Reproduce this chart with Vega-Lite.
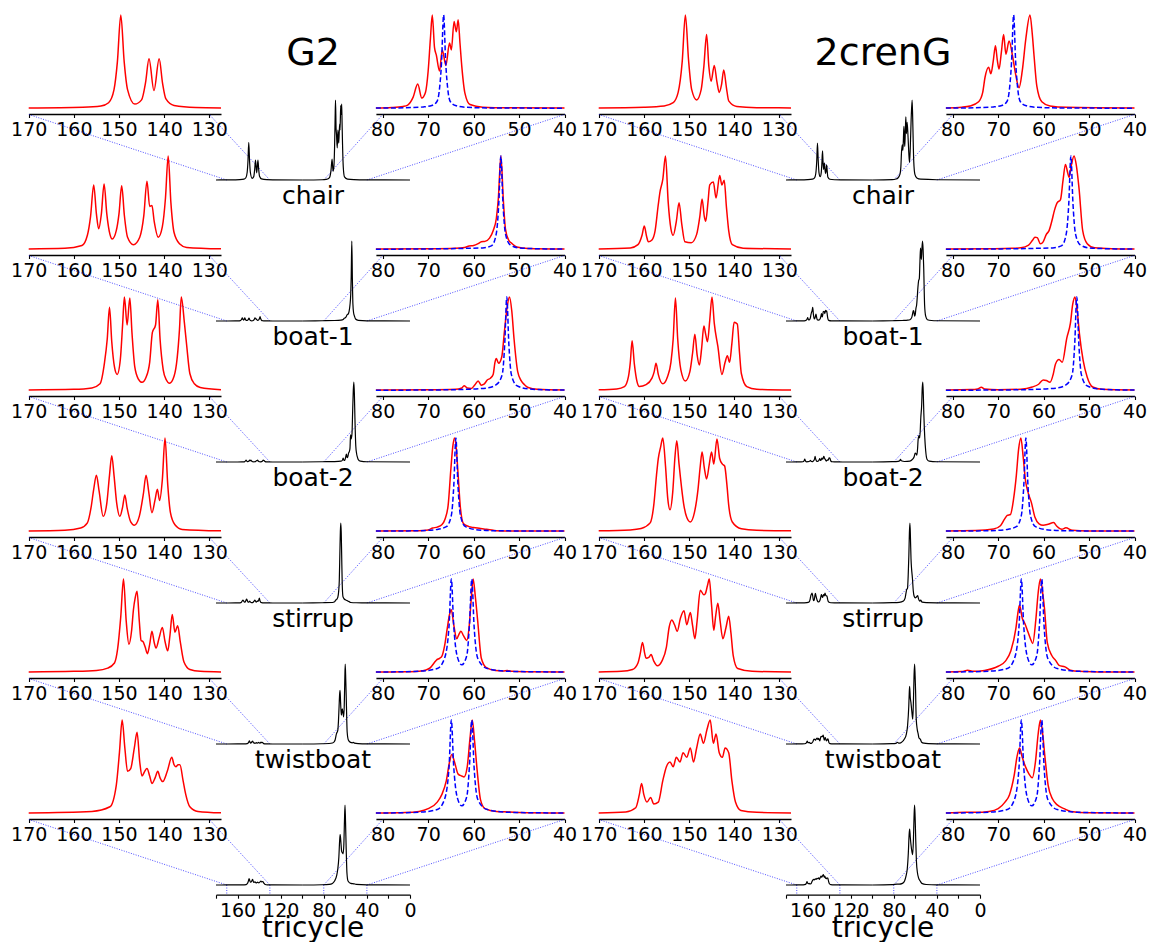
{"$schema":"https://vega.github.io/schema/vega-lite/v6.json","padding":0,"autosize":{"type":"pad"},"columns":2,"spacing":0,"bounds":"flush",
"config":{"view":{"stroke":null},"font":"DejaVu Sans","line":{"interpolate":"monotone","strokeWidth":1.5},"text":{"baseline":"alphabetic","color":"black","fontSize":25},"axis":{"labelFontSize":19,"labelColor":"black","domainColor":"black","tickColor":"black","labelFlush":false,"labelOverlap":false,"labelBound":false,"grid":false,"tickSize":3.5,"labelPadding":3,"domainWidth":1.3,"tickWidth":1.1}},
"datasets":{
"conn":[{"a":170,"b":353.8},{"a":130,"b":186.2},{"a":80,"b":25.3},{"a":40,"b":-143.35}],
"vt":[{"x":170},{"x":130},{"x":80},{"x":40}],
"b1":[{"x":81.5,"y":0.002},{"x":75,"y":0.006},{"x":71,"y":0.015},{"x":69.2,"y":0.03},{"x":68.1,"y":0.07},{"x":67.6,"y":0.17},{"x":67.05,"y":0.5},{"x":66.6,"y":1},{"x":66.15,"y":0.5},{"x":65.6,"y":0.17},{"x":65.1,"y":0.07},{"x":64,"y":0.03},{"x":62,"y":0.012},{"x":57,"y":0.004},{"x":40,"y":0.001}],
"b2":[{"x":81.5,"y":0.001},{"x":70,"y":0.004},{"x":62,"y":0.01},{"x":58,"y":0.015},{"x":56,"y":0.04},{"x":55,"y":0.17},{"x":54.45,"y":0.5},{"x":54,"y":1},{"x":53.55,"y":0.5},{"x":53,"y":0.17},{"x":52,"y":0.05},{"x":50,"y":0.015},{"x":45,"y":0.005},{"x":40,"y":0.003}],
"b3":[{"x":81.5,"y":0.001},{"x":70,"y":0.003},{"x":62,"y":0.01},{"x":57,"y":0.025},{"x":55,"y":0.06},{"x":53.7,"y":0.17},{"x":53.15,"y":0.5},{"x":52.7,"y":1},{"x":52.25,"y":0.5},{"x":51.7,"y":0.17},{"x":50.5,"y":0.05},{"x":48,"y":0.015},{"x":44,"y":0.005},{"x":40,"y":0.003}],
"b4":[{"x":81.5,"y":0.002},{"x":72,"y":0.006},{"x":68,"y":0.02},{"x":66,"y":0.05},{"x":64.9,"y":0.17},{"x":64.35,"y":0.5},{"x":63.9,"y":1},{"x":63.45,"y":0.5},{"x":62.9,"y":0.17},{"x":61.8,"y":0.05},{"x":59,"y":0.015},{"x":55,"y":0.006},{"x":40,"y":0.002}],
"b5":[{"x":81.5,"y":0.002},{"x":72,"y":0.012},{"x":68,"y":0.04},{"x":66.4,"y":0.15},{"x":65.4,"y":0.5},{"x":64.9,"y":1},{"x":64.4,"y":0.52},{"x":63.6,"y":0.17},{"x":62.6,"y":0.08},{"x":61.5,"y":0.18},{"x":60.9,"y":0.52},{"x":60.4,"y":1},{"x":59.9,"y":0.5},{"x":59.1,"y":0.15},{"x":57,"y":0.04},{"x":52,"y":0.01},{"x":40,"y":0.003}],
"a1":[{"x":180,"y":0},{"x":170,"y":0.004},{"x":158,"y":0.012},{"x":154,"y":0.025},{"x":152.3,"y":0.06},{"x":151.1,"y":0.2},{"x":150.35,"y":0.5},{"x":149.6,"y":1},{"x":148.85,"y":0.5},{"x":148.1,"y":0.2},{"x":146.5,"y":0.045},{"x":145,"y":0.09},{"x":144.1,"y":0.28},{"x":143.35,"y":0.53},{"x":142.25,"y":0.19},{"x":141.1,"y":0.53},{"x":140.35,"y":0.27},{"x":139.6,"y":0.1},{"x":137.8,"y":0.03},{"x":133,"y":0.008},{"x":127.4,"y":0.004},{"x":100,"y":0},{"x":81.5,"y":0.003},{"x":78,"y":0.008},{"x":75.5,"y":0.02},{"x":74.5,"y":0.035},{"x":73.3,"y":0.12},{"x":72.3,"y":0.26},{"x":71.4,"y":0.11},{"x":70.6,"y":0.17},{"x":70,"y":0.4},{"x":69.5,"y":0.75},{"x":69.1,"y":1},{"x":68.6,"y":0.65},{"x":68.2,"y":0.57},{"x":67.5,"y":0.4},{"x":66.9,"y":0.625},{"x":66.1,"y":0.46},{"x":65.3,"y":0.7},{"x":64.9,"y":0.625},{"x":64.3,"y":0.93},{"x":63.8,"y":0.82},{"x":63.4,"y":0.95},{"x":63,"y":0.7},{"x":62.6,"y":0.45},{"x":61.9,"y":0.16},{"x":60.8,"y":0.04},{"x":58,"y":0.012},{"x":52,"y":0.005},{"x":40,"y":0.002},{"x":0,"y":0}],
"a2":[{"x":180,"y":0},{"x":170,"y":0.004},{"x":162,"y":0.01},{"x":158.2,"y":0.04},{"x":157,"y":0.15},{"x":156.3,"y":0.35},{"x":155.6,"y":0.69},{"x":155,"y":0.38},{"x":154.5,"y":0.22},{"x":153.9,"y":0.38},{"x":153.3,"y":0.7},{"x":152.7,"y":0.38},{"x":152,"y":0.16},{"x":151.5,"y":0.11},{"x":150.6,"y":0.2},{"x":150,"y":0.38},{"x":149.4,"y":0.68},{"x":148.8,"y":0.36},{"x":148.1,"y":0.13},{"x":146.8,"y":0.05},{"x":145.4,"y":0.13},{"x":144.5,"y":0.36},{"x":143.8,"y":0.73},{"x":143.2,"y":0.46},{"x":142.7,"y":0.47},{"x":142.2,"y":0.3},{"x":141.3,"y":0.13},{"x":140.4,"y":0.24},{"x":139.7,"y":0.55},{"x":139.1,"y":1},{"x":138.5,"y":0.5},{"x":137.8,"y":0.18},{"x":136.6,"y":0.06},{"x":135,"y":0.02},{"x":127.4,"y":0.005},{"x":100,"y":0},{"x":81.5,"y":0.003},{"x":70,"y":0.006},{"x":64,"y":0.012},{"x":62,"y":0.02},{"x":61,"y":0.035},{"x":60,"y":0.04},{"x":59,"y":0.06},{"x":58.3,"y":0.08},{"x":57.5,"y":0.085},{"x":56.5,"y":0.12},{"x":55.7,"y":0.2},{"x":55,"y":0.33},{"x":54.55,"y":0.55},{"x":54,"y":1},{"x":53.45,"y":0.52},{"x":53,"y":0.22},{"x":52.3,"y":0.1},{"x":51.5,"y":0.06},{"x":50.5,"y":0.025},{"x":48,"y":0.008},{"x":40,"y":0.002},{"x":0,"y":0}],
"a3":[{"x":180,"y":0},{"x":170,"y":0.004},{"x":160,"y":0.01},{"x":156,"y":0.025},{"x":154.2,"y":0.07},{"x":153.2,"y":0.3},{"x":152.6,"y":0.55},{"x":152.1,"y":0.89},{"x":151.6,"y":0.52},{"x":151,"y":0.25},{"x":150.4,"y":0.17},{"x":149.7,"y":0.33},{"x":149.2,"y":0.7},{"x":148.8,"y":1},{"x":148.2,"y":0.7},{"x":147.6,"y":0.99},{"x":147.1,"y":0.6},{"x":146.5,"y":0.25},{"x":145.7,"y":0.12},{"x":144.9,"y":0.085},{"x":144,"y":0.14},{"x":143.2,"y":0.3},{"x":142.6,"y":0.62},{"x":141.9,"y":0.7},{"x":141.4,"y":0.97},{"x":140.9,"y":0.55},{"x":140.2,"y":0.22},{"x":139.5,"y":0.11},{"x":138.8,"y":0.075},{"x":137.8,"y":0.15},{"x":137.1,"y":0.35},{"x":136.6,"y":0.65},{"x":136.2,"y":1},{"x":135.5,"y":0.72},{"x":135,"y":0.48},{"x":134.3,"y":0.18},{"x":133.3,"y":0.07},{"x":132,"y":0.03},{"x":127.4,"y":0.006},{"x":100,"y":0},{"x":81.5,"y":0.003},{"x":70,"y":0.005},{"x":64,"y":0.01},{"x":62.6,"y":0.025},{"x":62.1,"y":0.05},{"x":61.4,"y":0.025},{"x":60.5,"y":0.02},{"x":59.7,"y":0.06},{"x":59,"y":0.1},{"x":58.3,"y":0.055},{"x":57.7,"y":0.065},{"x":57,"y":0.11},{"x":56.3,"y":0.13},{"x":55.7,"y":0.17},{"x":55.3,"y":0.3},{"x":55,"y":0.34},{"x":54.5,"y":0.29},{"x":53.8,"y":0.36},{"x":53.2,"y":0.64},{"x":52.6,"y":0.9},{"x":52.1,"y":1},{"x":51.6,"y":0.85},{"x":51.1,"y":0.55},{"x":50.3,"y":0.2},{"x":49.5,"y":0.1},{"x":48.8,"y":0.06},{"x":48,"y":0.03},{"x":46,"y":0.01},{"x":40,"y":0.003},{"x":0,"y":0}],
"a4":[{"x":180,"y":0},{"x":170,"y":0.004},{"x":162,"y":0.012},{"x":158.5,"y":0.035},{"x":157,"y":0.09},{"x":156.2,"y":0.25},{"x":155.6,"y":0.45},{"x":155,"y":0.6},{"x":154.4,"y":0.43},{"x":153.5,"y":0.16},{"x":152.7,"y":0.3},{"x":152.1,"y":0.6},{"x":151.6,"y":0.81},{"x":151.1,"y":0.6},{"x":150.5,"y":0.3},{"x":149.8,"y":0.16},{"x":149.2,"y":0.26},{"x":148.7,"y":0.39},{"x":148.2,"y":0.25},{"x":147.4,"y":0.1},{"x":146.6,"y":0.065},{"x":145.5,"y":0.16},{"x":144.6,"y":0.4},{"x":144,"y":0.6},{"x":143.4,"y":0.42},{"x":142.7,"y":0.2},{"x":142,"y":0.34},{"x":141.5,"y":0.45},{"x":141,"y":0.33},{"x":140.4,"y":0.55},{"x":139.8,"y":1},{"x":139.2,"y":0.5},{"x":138.6,"y":0.2},{"x":137.6,"y":0.07},{"x":136,"y":0.02},{"x":127.4,"y":0.005},{"x":100,"y":0},{"x":81.5,"y":0.003},{"x":72,"y":0.006},{"x":70,"y":0.015},{"x":69,"y":0.035},{"x":68,"y":0.045},{"x":67,"y":0.07},{"x":66.3,"y":0.13},{"x":65.6,"y":0.28},{"x":65,"y":0.67},{"x":64.6,"y":0.9},{"x":64.2,"y":1},{"x":63.8,"y":0.88},{"x":63.4,"y":0.6},{"x":62.9,"y":0.25},{"x":62.2,"y":0.08},{"x":61,"y":0.05},{"x":60,"y":0.04},{"x":58.5,"y":0.03},{"x":57.5,"y":0.022},{"x":56.8,"y":0.02},{"x":55,"y":0.006},{"x":50,"y":0.003},{"x":40,"y":0.002},{"x":0,"y":0}],
"a5":[{"x":180,"y":0},{"x":170,"y":0.004},{"x":160,"y":0.01},{"x":155,"y":0.02},{"x":152.5,"y":0.045},{"x":151,"y":0.1},{"x":150.3,"y":0.25},{"x":149.6,"y":0.6},{"x":149,"y":1},{"x":148.4,"y":0.55},{"x":147.8,"y":0.3},{"x":147.2,"y":0.45},{"x":146.8,"y":0.67},{"x":146.4,"y":0.8},{"x":146,"y":0.87},{"x":145.5,"y":0.55},{"x":145.1,"y":0.34},{"x":144.7,"y":0.33},{"x":144.2,"y":0.27},{"x":143.7,"y":0.2},{"x":143.2,"y":0.3},{"x":142.7,"y":0.44},{"x":142.2,"y":0.32},{"x":141.8,"y":0.26},{"x":141.1,"y":0.37},{"x":140.4,"y":0.48},{"x":139.8,"y":0.33},{"x":139.2,"y":0.23},{"x":138.7,"y":0.4},{"x":138.2,"y":0.62},{"x":137.6,"y":0.43},{"x":137,"y":0.5},{"x":136.4,"y":0.32},{"x":135.6,"y":0.11},{"x":134.3,"y":0.03},{"x":132,"y":0.01},{"x":127.4,"y":0.004},{"x":100,"y":0},{"x":81.5,"y":0.003},{"x":75,"y":0.006},{"x":72,"y":0.012},{"x":70.5,"y":0.025},{"x":69.5,"y":0.05},{"x":68.7,"y":0.1},{"x":68.2,"y":0.13},{"x":67.5,"y":0.15},{"x":67,"y":0.17},{"x":66.4,"y":0.28},{"x":65.8,"y":0.47},{"x":65.3,"y":0.62},{"x":64.9,"y":0.67},{"x":64.4,"y":0.52},{"x":63.7,"y":0.36},{"x":63.2,"y":0.41},{"x":62.8,"y":0.44},{"x":62.2,"y":0.39},{"x":61.5,"y":0.34},{"x":61,"y":0.48},{"x":60.5,"y":0.8},{"x":60.1,"y":1},{"x":59.6,"y":0.8},{"x":59.1,"y":0.55},{"x":58.3,"y":0.15},{"x":57.2,"y":0.05},{"x":55.2,"y":0.02},{"x":53.5,"y":0.015},{"x":52.6,"y":0.02},{"x":51.5,"y":0.01},{"x":48,"y":0.005},{"x":40,"y":0.002},{"x":0,"y":0}],
"a6":[{"x":180,"y":0},{"x":170,"y":0.004},{"x":156,"y":0.02},{"x":152,"y":0.07},{"x":150.6,"y":0.3},{"x":149.9,"y":0.65},{"x":149.3,"y":1},{"x":148.7,"y":0.7},{"x":148.1,"y":0.45},{"x":147.4,"y":0.48},{"x":146.6,"y":0.7},{"x":146,"y":0.87},{"x":145.4,"y":0.55},{"x":144.9,"y":0.4},{"x":144.3,"y":0.45},{"x":143.8,"y":0.48},{"x":143.2,"y":0.4},{"x":142.7,"y":0.32},{"x":142,"y":0.38},{"x":141.4,"y":0.45},{"x":140.9,"y":0.38},{"x":140.3,"y":0.34},{"x":139.3,"y":0.45},{"x":138.3,"y":0.6},{"x":137.8,"y":0.52},{"x":137.4,"y":0.5},{"x":136.9,"y":0.52},{"x":136.5,"y":0.52},{"x":135.8,"y":0.35},{"x":135.2,"y":0.2},{"x":134.3,"y":0.07},{"x":132.5,"y":0.02},{"x":127.4,"y":0.005},{"x":100,"y":0},{"x":81.5,"y":0.003},{"x":75,"y":0.008},{"x":72,"y":0.02},{"x":70,"y":0.05},{"x":68,"y":0.12},{"x":67,"y":0.2},{"x":66,"y":0.35},{"x":65.3,"y":0.55},{"x":64.8,"y":0.63},{"x":64.2,"y":0.55},{"x":63.4,"y":0.42},{"x":62.6,"y":0.4},{"x":62.1,"y":0.39},{"x":61.4,"y":0.5},{"x":60.8,"y":0.8},{"x":60.3,"y":1},{"x":59.8,"y":0.78},{"x":59.2,"y":0.45},{"x":58.5,"y":0.15},{"x":57.5,"y":0.05},{"x":55,"y":0.02},{"x":52,"y":0.015},{"x":50,"y":0.008},{"x":40,"y":0.002},{"x":0,"y":0}],
"c1":[{"x":180,"y":0},{"x":170,"y":0.004},{"x":160,"y":0.012},{"x":155.5,"y":0.025},{"x":153.5,"y":0.06},{"x":152.4,"y":0.17},{"x":151.5,"y":0.5},{"x":150.8,"y":1},{"x":150.1,"y":0.52},{"x":149.4,"y":0.2},{"x":148.3,"y":0.09},{"x":147.3,"y":0.2},{"x":146.7,"y":0.45},{"x":146.1,"y":0.79},{"x":145.6,"y":0.45},{"x":145.1,"y":0.29},{"x":144.4,"y":0.46},{"x":143.8,"y":0.28},{"x":143.3,"y":0.17},{"x":142.8,"y":0.25},{"x":142.3,"y":0.41},{"x":141.7,"y":0.22},{"x":141.2,"y":0.08},{"x":139.4,"y":0.02},{"x":135,"y":0.007},{"x":127.4,"y":0.004},{"x":100,"y":0},{"x":81.5,"y":0.004},{"x":78,"y":0.012},{"x":76.2,"y":0.025},{"x":74.3,"y":0.07},{"x":73.4,"y":0.17},{"x":72.9,"y":0.33},{"x":72.1,"y":0.44},{"x":71.6,"y":0.37},{"x":71.1,"y":0.5},{"x":70.6,"y":0.67},{"x":70.2,"y":0.52},{"x":69.8,"y":0.42},{"x":69.3,"y":0.6},{"x":68.8,"y":0.79},{"x":68.3,"y":0.58},{"x":67.6,"y":0.72},{"x":66.8,"y":0.55},{"x":66.1,"y":0.35},{"x":65.4,"y":0.22},{"x":64.7,"y":0.4},{"x":63.9,"y":0.75},{"x":63,"y":1},{"x":62.5,"y":0.8},{"x":62.1,"y":0.56},{"x":61.5,"y":0.24},{"x":60.4,"y":0.07},{"x":58.6,"y":0.025},{"x":55,"y":0.01},{"x":40,"y":0.003},{"x":0,"y":0}],
"c2":[{"x":180,"y":0},{"x":170,"y":0.004},{"x":163,"y":0.015},{"x":161.3,"y":0.05},{"x":160.4,"y":0.15},{"x":159.9,"y":0.25},{"x":159.4,"y":0.14},{"x":159,"y":0.08},{"x":158.2,"y":0.1},{"x":157.5,"y":0.2},{"x":156.8,"y":0.48},{"x":156.4,"y":0.62},{"x":155.8,"y":0.75},{"x":155.2,"y":1},{"x":154.6,"y":0.5},{"x":154,"y":0.22},{"x":153.5,"y":0.15},{"x":152.8,"y":0.3},{"x":152.2,"y":0.5},{"x":151.6,"y":0.27},{"x":150.9,"y":0.08},{"x":149.5,"y":0.07},{"x":148.3,"y":0.16},{"x":147.6,"y":0.35},{"x":147.1,"y":0.54},{"x":146.6,"y":0.35},{"x":146.3,"y":0.3},{"x":145.8,"y":0.5},{"x":145.4,"y":0.69},{"x":144.6,"y":0.72},{"x":144,"y":0.55},{"x":143.2,"y":0.79},{"x":142.7,"y":0.69},{"x":142.2,"y":0.74},{"x":141.7,"y":0.45},{"x":141.2,"y":0.2},{"x":140.4,"y":0.05},{"x":138,"y":0.012},{"x":127.4,"y":0.004},{"x":100,"y":0},{"x":81.5,"y":0.003},{"x":72,"y":0.006},{"x":67,"y":0.01},{"x":65,"y":0.016},{"x":63.3,"y":0.045},{"x":62.4,"y":0.1},{"x":61.9,"y":0.13},{"x":61.4,"y":0.125},{"x":60.7,"y":0.06},{"x":60.1,"y":0.08},{"x":59.4,"y":0.16},{"x":58.8,"y":0.2},{"x":58.2,"y":0.3},{"x":57.6,"y":0.42},{"x":57,"y":0.5},{"x":56.3,"y":0.53},{"x":55.7,"y":0.75},{"x":55.2,"y":0.91},{"x":54.7,"y":0.82},{"x":54.4,"y":0.77},{"x":53.9,"y":0.9},{"x":53.3,"y":1},{"x":52.8,"y":0.9},{"x":52.2,"y":0.65},{"x":51.4,"y":0.2},{"x":50.4,"y":0.06},{"x":48.8,"y":0.016},{"x":45,"y":0.006},{"x":40,"y":0.003},{"x":0,"y":0}],
"c3":[{"x":180,"y":0},{"x":170,"y":0.005},{"x":166,"y":0.015},{"x":164.3,"y":0.04},{"x":163.4,"y":0.15},{"x":163,"y":0.3},{"x":162.6,"y":0.53},{"x":162.1,"y":0.28},{"x":161.5,"y":0.09},{"x":161,"y":0.04},{"x":159.5,"y":0.06},{"x":158.2,"y":0.13},{"x":157.7,"y":0.2},{"x":157.3,"y":0.29},{"x":156.8,"y":0.17},{"x":155.8,"y":0.07},{"x":154.8,"y":0.14},{"x":154,"y":0.3},{"x":153.5,"y":0.55},{"x":153,"y":0.99},{"x":152.5,"y":0.55},{"x":151.8,"y":0.22},{"x":150.8,"y":0.1},{"x":149.8,"y":0.2},{"x":149.2,"y":0.4},{"x":148.7,"y":0.6},{"x":148.2,"y":0.38},{"x":147.7,"y":0.27},{"x":147.2,"y":0.45},{"x":146.7,"y":0.69},{"x":146.3,"y":0.6},{"x":145.9,"y":0.52},{"x":145.4,"y":0.75},{"x":144.9,"y":1},{"x":144.4,"y":0.72},{"x":143.6,"y":0.47},{"x":142.7,"y":0.17},{"x":142,"y":0.3},{"x":141.5,"y":0.37},{"x":141,"y":0.3},{"x":140.5,"y":0.5},{"x":140,"y":0.73},{"x":139.3,"y":0.71},{"x":138.8,"y":0.4},{"x":138.4,"y":0.18},{"x":137.2,"y":0.04},{"x":135,"y":0.012},{"x":127.4,"y":0.004},{"x":100,"y":0},{"x":81.5,"y":0.004},{"x":76,"y":0.008},{"x":74.5,"y":0.015},{"x":73.7,"y":0.033},{"x":73,"y":0.015},{"x":70,"y":0.006},{"x":65,"y":0.012},{"x":62.5,"y":0.035},{"x":61.1,"y":0.065},{"x":60.1,"y":0.11},{"x":59.4,"y":0.105},{"x":58.6,"y":0.085},{"x":57.9,"y":0.17},{"x":57.4,"y":0.28},{"x":56.6,"y":0.33},{"x":55.9,"y":0.3},{"x":54.9,"y":0.56},{"x":54.1,"y":0.72},{"x":53.6,"y":0.92},{"x":53.1,"y":1},{"x":52.6,"y":0.85},{"x":52.1,"y":0.6},{"x":51.3,"y":0.32},{"x":50.4,"y":0.14},{"x":49.2,"y":0.035},{"x":47.2,"y":0.01},{"x":40,"y":0.003},{"x":0,"y":0}],
"c4":[{"x":180,"y":0},{"x":170,"y":0.005},{"x":163,"y":0.015},{"x":160.6,"y":0.03},{"x":158.6,"y":0.09},{"x":157.8,"y":0.28},{"x":157.2,"y":0.6},{"x":156.8,"y":0.78},{"x":156.3,"y":0.9},{"x":155.8,"y":1},{"x":155.2,"y":0.7},{"x":154.7,"y":0.35},{"x":154.2,"y":0.23},{"x":153.6,"y":0.42},{"x":153.1,"y":0.8},{"x":152.7,"y":0.97},{"x":152.2,"y":0.72},{"x":151.9,"y":0.58},{"x":151.2,"y":0.3},{"x":150.5,"y":0.15},{"x":149.7,"y":0.1},{"x":148.8,"y":0.2},{"x":148,"y":0.45},{"x":147.5,"y":0.7},{"x":147.1,"y":0.85},{"x":146.6,"y":0.68},{"x":146.1,"y":0.56},{"x":145.5,"y":0.72},{"x":145,"y":0.85},{"x":144.5,"y":0.72},{"x":143.8,"y":0.99},{"x":143.2,"y":0.78},{"x":142.6,"y":0.72},{"x":142.1,"y":0.7},{"x":141.6,"y":0.5},{"x":141.2,"y":0.28},{"x":140.4,"y":0.1},{"x":138.4,"y":0.027},{"x":135,"y":0.01},{"x":127.4,"y":0.005},{"x":100,"y":0},{"x":81.5,"y":0.004},{"x":75,"y":0.008},{"x":71,"y":0.025},{"x":69.5,"y":0.06},{"x":68.6,"y":0.13},{"x":68,"y":0.17},{"x":67.3,"y":0.18},{"x":66.6,"y":0.35},{"x":66,"y":0.6},{"x":65.5,"y":0.88},{"x":65,"y":1},{"x":64.5,"y":0.8},{"x":64,"y":0.55},{"x":63.5,"y":0.43},{"x":62.7,"y":0.31},{"x":61.9,"y":0.15},{"x":61,"y":0.08},{"x":60.1,"y":0.065},{"x":59,"y":0.075},{"x":57.8,"y":0.093},{"x":57.1,"y":0.055},{"x":56,"y":0.022},{"x":55.1,"y":0.037},{"x":53.7,"y":0.01},{"x":50,"y":0.004},{"x":40,"y":0.002},{"x":0,"y":0}],
"c5":[{"x":180,"y":0},{"x":170,"y":0.004},{"x":165,"y":0.01},{"x":162.5,"y":0.03},{"x":161.3,"y":0.1},{"x":160.8,"y":0.2},{"x":160.3,"y":0.32},{"x":159.8,"y":0.2},{"x":159.5,"y":0.15},{"x":158.9,"y":0.16},{"x":158.4,"y":0.19},{"x":157.8,"y":0.12},{"x":157,"y":0.07},{"x":156,"y":0.12},{"x":155,"y":0.27},{"x":154.4,"y":0.48},{"x":153.8,"y":0.56},{"x":153.2,"y":0.51},{"x":152.6,"y":0.44},{"x":151.9,"y":0.58},{"x":151.1,"y":0.66},{"x":150.5,"y":0.51},{"x":149.7,"y":0.64},{"x":149.2,"y":0.5},{"x":148.7,"y":0.36},{"x":148.2,"y":0.55},{"x":147.5,"y":0.88},{"x":146.7,"y":0.83},{"x":146.4,"y":0.84},{"x":145.9,"y":0.93},{"x":145.5,"y":1},{"x":145,"y":0.72},{"x":144.5,"y":0.45},{"x":144.1,"y":0.6},{"x":143.6,"y":0.74},{"x":143.1,"y":0.55},{"x":142.5,"y":0.36},{"x":141.8,"y":0.48},{"x":141.2,"y":0.6},{"x":140.7,"y":0.42},{"x":140.2,"y":0.18},{"x":139.2,"y":0.04},{"x":136,"y":0.01},{"x":127.4,"y":0.004},{"x":100,"y":0},{"x":81.5,"y":0.004},{"x":78,"y":0.008},{"x":76.7,"y":0.022},{"x":75.5,"y":0.01},{"x":73,"y":0.02},{"x":70,"y":0.065},{"x":68.4,"y":0.12},{"x":67.2,"y":0.23},{"x":66.1,"y":0.47},{"x":65.7,"y":0.62},{"x":65.3,"y":0.72},{"x":64.7,"y":0.58},{"x":64.1,"y":0.52},{"x":63.5,"y":0.44},{"x":62.9,"y":0.36},{"x":62.4,"y":0.31},{"x":61.7,"y":0.57},{"x":61.2,"y":0.85},{"x":60.7,"y":1},{"x":60.2,"y":0.85},{"x":59.8,"y":0.68},{"x":59.2,"y":0.32},{"x":58.2,"y":0.18},{"x":57.4,"y":0.13},{"x":56.6,"y":0.075},{"x":55.3,"y":0.058},{"x":54.1,"y":0.022},{"x":52.1,"y":0.01},{"x":48,"y":0.004},{"x":40,"y":0.002},{"x":0,"y":0}],
"c6":[{"x":180,"y":0},{"x":170,"y":0.004},{"x":164,"y":0.015},{"x":161.8,"y":0.06},{"x":161,"y":0.2},{"x":160.5,"y":0.32},{"x":160,"y":0.2},{"x":159.3,"y":0.12},{"x":158.5,"y":0.17},{"x":157.8,"y":0.1},{"x":156.8,"y":0.12},{"x":155.8,"y":0.35},{"x":155,"y":0.5},{"x":154.2,"y":0.55},{"x":153.5,"y":0.5},{"x":152.8,"y":0.6},{"x":152,"y":0.55},{"x":151.3,"y":0.65},{"x":150.5,"y":0.6},{"x":149.7,"y":0.7},{"x":149,"y":0.55},{"x":148.3,"y":0.7},{"x":147.5,"y":0.85},{"x":146.8,"y":0.75},{"x":146,"y":0.9},{"x":145.3,"y":1},{"x":144.6,"y":0.75},{"x":144,"y":0.85},{"x":143.3,"y":0.65},{"x":142.6,"y":0.6},{"x":142,"y":0.7},{"x":141.2,"y":0.65},{"x":140.5,"y":0.35},{"x":139.7,"y":0.12},{"x":138.5,"y":0.03},{"x":135,"y":0.01},{"x":127.4,"y":0.004},{"x":100,"y":0},{"x":81.5,"y":0.004},{"x":77,"y":0.012},{"x":75,"y":0.01},{"x":72,"y":0.02},{"x":70,"y":0.05},{"x":68.5,"y":0.12},{"x":67.5,"y":0.2},{"x":66.5,"y":0.4},{"x":65.8,"y":0.62},{"x":65.3,"y":0.7},{"x":64.7,"y":0.6},{"x":64,"y":0.5},{"x":63.2,"y":0.42},{"x":62.5,"y":0.38},{"x":61.8,"y":0.55},{"x":61.2,"y":0.85},{"x":60.7,"y":1},{"x":60.2,"y":0.85},{"x":59.7,"y":0.6},{"x":59,"y":0.3},{"x":58,"y":0.15},{"x":57,"y":0.09},{"x":55.5,"y":0.05},{"x":54,"y":0.02},{"x":50,"y":0.006},{"x":40,"y":0.002},{"x":0,"y":0}]
},
"concat":[
{"width":570,"height":140.2,"data":{"name":"a1"},"resolve":{"scale":{"x":"independent","y":"independent"}},"layer":[
{"data":{"name":"conn"},"mark":{"type":"rule","color":"#0000ff","strokeWidth":0.7,"strokeDash":[1,1.5]},"encoding":{"x":{"field":"a","type":"quantitative","scale":{"domain":[180,0],"range":[216,410]},"axis":null},"x2":{"field":"b"},"y":{"datum":0,"scale":{"domain":[0,100],"range":[180,100]},"axis":null},"y2":{"datum":81.9}}},
{"transform":[{"filter":"datum.x>127&&datum.x<171"}],"mark":{"type":"line","color":"#ff0000"},"encoding":{"x":{"field":"x","type":"quantitative","scale":{"domain":[170,127.4],"range":[28.7,221]},"axis":{"values":[170,160,150,140,130],"offset":-26.2,"orient":"bottom","title":null}},"y":{"field":"y","type":"quantitative","scale":{"domain":[0,1],"range":[108.3,15]},"axis":null}}},
{"encoding":{"x":{"field":"x","type":"quantitative","scale":{"domain":[81.5,40],"range":[375.9,564.5]},"axis":{"values":[80,70,60,50,40],"offset":-26.2,"orient":"bottom","title":null}},"y":{"field":"y","type":"quantitative","scale":{"domain":[0,1],"range":[108.3,15]},"axis":null}},"layer":[{"transform":[{"filter":"datum.x<82&&datum.x>39"}],"mark":{"type":"line","color":"#ff0000"}},{"data":{"name":"b1"},"mark":{"type":"line","color":"#0000ff","strokeDash":[5,2.5]}}]},
{"transform":[{"filter":"datum.x>99"}],"mark":{"type":"line","color":"black","strokeWidth":1.2},"encoding":{"x":{"field":"x","type":"quantitative","scale":{"domain":[180,0],"range":[216,410]},"axis":null},"y":{"field":"y","type":"quantitative","scale":{"domain":[0,2.13],"range":[180,100]},"axis":null}}},
{"transform":[{"filter":"datum.x<=100"}],"mark":{"type":"line","color":"black","strokeWidth":1.2},"encoding":{"x":{"field":"x","type":"quantitative","scale":{"domain":[180,0],"range":[216,410]},"axis":null},"y":{"field":"y","type":"quantitative","scale":{"domain":[0,1],"range":[180,100]},"axis":null}}},
{"data":{"values":[{}]},"mark":{"type":"text"},"encoding":{"text":{"value":"chair"},"x":{"datum":90,"scale":{"domain":[180,0],"range":[216,410]},"axis":null},"y":{"datum":-29.4,"scale":{"domain":[0,100],"range":[180,100]},"axis":null}}},
{"data":{"values":[{}]},"mark":{"type":"text","fontSize":38},"encoding":{"text":{"value":"G2"},"x":{"datum":90,"scale":{"domain":[180,0],"range":[216,410]},"axis":null},"y":{"datum":143.75,"scale":{"domain":[0,100],"range":[180,100]},"axis":null}}}
]},
{"width":570,"height":140.2,"data":{"name":"c1"},"resolve":{"scale":{"x":"independent","y":"independent"}},"layer":[
{"data":{"name":"conn"},"mark":{"type":"rule","color":"#0000ff","strokeWidth":0.7,"strokeDash":[1,1.5]},"encoding":{"x":{"field":"a","type":"quantitative","scale":{"domain":[180,0],"range":[216,410]},"axis":null},"x2":{"field":"b"},"y":{"datum":0,"scale":{"domain":[0,100],"range":[180,100]},"axis":null},"y2":{"datum":81.9}}},
{"transform":[{"filter":"datum.x>127&&datum.x<171"}],"mark":{"type":"line","color":"#ff0000"},"encoding":{"x":{"field":"x","type":"quantitative","scale":{"domain":[170,127.4],"range":[28.7,221]},"axis":{"values":[170,160,150,140,130],"offset":-26.2,"orient":"bottom","title":null}},"y":{"field":"y","type":"quantitative","scale":{"domain":[0,1],"range":[108.3,15]},"axis":null}}},
{"encoding":{"x":{"field":"x","type":"quantitative","scale":{"domain":[81.5,40],"range":[375.9,564.5]},"axis":{"values":[80,70,60,50,40],"offset":-26.2,"orient":"bottom","title":null}},"y":{"field":"y","type":"quantitative","scale":{"domain":[0,1],"range":[108.3,15]},"axis":null}},"layer":[{"transform":[{"filter":"datum.x<82&&datum.x>39"}],"mark":{"type":"line","color":"#ff0000"}},{"data":{"name":"b1"},"mark":{"type":"line","color":"#0000ff","strokeDash":[5,2.5]}}]},
{"transform":[{"filter":"datum.x>99"}],"mark":{"type":"line","color":"black","strokeWidth":1.2},"encoding":{"x":{"field":"x","type":"quantitative","scale":{"domain":[180,0],"range":[216,410]},"axis":null},"y":{"field":"y","type":"quantitative","scale":{"domain":[0,2.17],"range":[180,100]},"axis":null}}},
{"transform":[{"filter":"datum.x<=100"}],"mark":{"type":"line","color":"black","strokeWidth":1.2},"encoding":{"x":{"field":"x","type":"quantitative","scale":{"domain":[180,0],"range":[216,410]},"axis":null},"y":{"field":"y","type":"quantitative","scale":{"domain":[0,1],"range":[180,100]},"axis":null}}},
{"data":{"values":[{}]},"mark":{"type":"text"},"encoding":{"text":{"value":"chair"},"x":{"datum":90,"scale":{"domain":[180,0],"range":[216,410]},"axis":null},"y":{"datum":-29.4,"scale":{"domain":[0,100],"range":[180,100]},"axis":null}}},
{"data":{"values":[{}]},"mark":{"type":"text","fontSize":38},"encoding":{"text":{"value":"2crenG"},"x":{"datum":90,"scale":{"domain":[180,0],"range":[216,410]},"axis":null},"y":{"datum":143.75,"scale":{"domain":[0,100],"range":[180,100]},"axis":null}}}
]},
{"width":570,"height":140.2,"data":{"name":"a2"},"resolve":{"scale":{"x":"independent","y":"independent"}},"layer":[
{"data":{"name":"conn"},"mark":{"type":"rule","color":"#0000ff","strokeWidth":0.7,"strokeDash":[1,1.5]},"encoding":{"x":{"field":"a","type":"quantitative","scale":{"domain":[180,0],"range":[216,410]},"axis":null},"x2":{"field":"b"},"y":{"datum":0,"scale":{"domain":[0,100],"range":[180,100]},"axis":null},"y2":{"datum":81.9}}},
{"transform":[{"filter":"datum.x>127&&datum.x<171"}],"mark":{"type":"line","color":"#ff0000"},"encoding":{"x":{"field":"x","type":"quantitative","scale":{"domain":[170,127.4],"range":[28.7,221]},"axis":{"values":[170,160,150,140,130],"offset":-26.2,"orient":"bottom","title":null}},"y":{"field":"y","type":"quantitative","scale":{"domain":[0,1],"range":[108.3,15]},"axis":null}}},
{"encoding":{"x":{"field":"x","type":"quantitative","scale":{"domain":[81.5,40],"range":[375.9,564.5]},"axis":{"values":[80,70,60,50,40],"offset":-26.2,"orient":"bottom","title":null}},"y":{"field":"y","type":"quantitative","scale":{"domain":[0,1],"range":[108.3,15]},"axis":null}},"layer":[{"transform":[{"filter":"datum.x<82&&datum.x>39"}],"mark":{"type":"line","color":"#ff0000"}},{"data":{"name":"b2"},"mark":{"type":"line","color":"#0000ff","strokeDash":[5,2.5]}}]},
{"transform":[{"filter":"datum.x>99"}],"mark":{"type":"line","color":"black","strokeWidth":1.2},"encoding":{"x":{"field":"x","type":"quantitative","scale":{"domain":[180,0],"range":[216,410]},"axis":null},"y":{"field":"y","type":"quantitative","scale":{"domain":[0,18.2],"range":[180,100]},"axis":null}}},
{"transform":[{"filter":"datum.x<=100"}],"mark":{"type":"line","color":"black","strokeWidth":1.2},"encoding":{"x":{"field":"x","type":"quantitative","scale":{"domain":[180,0],"range":[216,410]},"axis":null},"y":{"field":"y","type":"quantitative","scale":{"domain":[0,1],"range":[180,100]},"axis":null}}},
{"data":{"values":[{}]},"mark":{"type":"text"},"encoding":{"text":{"value":"boat-1"},"x":{"datum":90,"scale":{"domain":[180,0],"range":[216,410]},"axis":null},"y":{"datum":-29.4,"scale":{"domain":[0,100],"range":[180,100]},"axis":null}}}
]},
{"width":570,"height":140.2,"data":{"name":"c2"},"resolve":{"scale":{"x":"independent","y":"independent"}},"layer":[
{"data":{"name":"conn"},"mark":{"type":"rule","color":"#0000ff","strokeWidth":0.7,"strokeDash":[1,1.5]},"encoding":{"x":{"field":"a","type":"quantitative","scale":{"domain":[180,0],"range":[216,410]},"axis":null},"x2":{"field":"b"},"y":{"datum":0,"scale":{"domain":[0,100],"range":[180,100]},"axis":null},"y2":{"datum":81.9}}},
{"transform":[{"filter":"datum.x>127&&datum.x<171"}],"mark":{"type":"line","color":"#ff0000"},"encoding":{"x":{"field":"x","type":"quantitative","scale":{"domain":[170,127.4],"range":[28.7,221]},"axis":{"values":[170,160,150,140,130],"offset":-26.2,"orient":"bottom","title":null}},"y":{"field":"y","type":"quantitative","scale":{"domain":[0,1],"range":[108.3,15]},"axis":null}}},
{"encoding":{"x":{"field":"x","type":"quantitative","scale":{"domain":[81.5,40],"range":[375.9,564.5]},"axis":{"values":[80,70,60,50,40],"offset":-26.2,"orient":"bottom","title":null}},"y":{"field":"y","type":"quantitative","scale":{"domain":[0,1],"range":[108.3,15]},"axis":null}},"layer":[{"transform":[{"filter":"datum.x<82&&datum.x>39"}],"mark":{"type":"line","color":"#ff0000"}},{"data":{"name":"b2"},"mark":{"type":"line","color":"#0000ff","strokeDash":[5,2.5]}}]},
{"transform":[{"filter":"datum.x>99"}],"mark":{"type":"line","color":"black","strokeWidth":1.2},"encoding":{"x":{"field":"x","type":"quantitative","scale":{"domain":[180,0],"range":[216,410]},"axis":null},"y":{"field":"y","type":"quantitative","scale":{"domain":[0,5.9],"range":[180,100]},"axis":null}}},
{"transform":[{"filter":"datum.x<=100"}],"mark":{"type":"line","color":"black","strokeWidth":1.2},"encoding":{"x":{"field":"x","type":"quantitative","scale":{"domain":[180,0],"range":[216,410]},"axis":null},"y":{"field":"y","type":"quantitative","scale":{"domain":[0,1],"range":[180,100]},"axis":null}}},
{"data":{"values":[{}]},"mark":{"type":"text"},"encoding":{"text":{"value":"boat-1"},"x":{"datum":90,"scale":{"domain":[180,0],"range":[216,410]},"axis":null},"y":{"datum":-29.4,"scale":{"domain":[0,100],"range":[180,100]},"axis":null}}}
]},
{"width":570,"height":140.2,"data":{"name":"a3"},"resolve":{"scale":{"x":"independent","y":"independent"}},"layer":[
{"data":{"name":"conn"},"mark":{"type":"rule","color":"#0000ff","strokeWidth":0.7,"strokeDash":[1,1.5]},"encoding":{"x":{"field":"a","type":"quantitative","scale":{"domain":[180,0],"range":[216,410]},"axis":null},"x2":{"field":"b"},"y":{"datum":0,"scale":{"domain":[0,100],"range":[180,100]},"axis":null},"y2":{"datum":81.9}}},
{"transform":[{"filter":"datum.x>127&&datum.x<171"}],"mark":{"type":"line","color":"#ff0000"},"encoding":{"x":{"field":"x","type":"quantitative","scale":{"domain":[170,127.4],"range":[28.7,221]},"axis":{"values":[170,160,150,140,130],"offset":-26.2,"orient":"bottom","title":null}},"y":{"field":"y","type":"quantitative","scale":{"domain":[0,1],"range":[108.3,15]},"axis":null}}},
{"encoding":{"x":{"field":"x","type":"quantitative","scale":{"domain":[81.5,40],"range":[375.9,564.5]},"axis":{"values":[80,70,60,50,40],"offset":-26.2,"orient":"bottom","title":null}},"y":{"field":"y","type":"quantitative","scale":{"domain":[0,1],"range":[108.3,15]},"axis":null}},"layer":[{"transform":[{"filter":"datum.x<82&&datum.x>39"}],"mark":{"type":"line","color":"#ff0000"}},{"data":{"name":"b3"},"mark":{"type":"line","color":"#0000ff","strokeDash":[5,2.5]}}]},
{"transform":[{"filter":"datum.x>99"}],"mark":{"type":"line","color":"black","strokeWidth":1.2},"encoding":{"x":{"field":"x","type":"quantitative","scale":{"domain":[180,0],"range":[216,410]},"axis":null},"y":{"field":"y","type":"quantitative","scale":{"domain":[0,40],"range":[180,100]},"axis":null}}},
{"transform":[{"filter":"datum.x<=100"}],"mark":{"type":"line","color":"black","strokeWidth":1.2},"encoding":{"x":{"field":"x","type":"quantitative","scale":{"domain":[180,0],"range":[216,410]},"axis":null},"y":{"field":"y","type":"quantitative","scale":{"domain":[0,1],"range":[180,100]},"axis":null}}},
{"data":{"values":[{}]},"mark":{"type":"text"},"encoding":{"text":{"value":"boat-2"},"x":{"datum":90,"scale":{"domain":[180,0],"range":[216,410]},"axis":null},"y":{"datum":-29.4,"scale":{"domain":[0,100],"range":[180,100]},"axis":null}}}
]},
{"width":570,"height":140.2,"data":{"name":"c3"},"resolve":{"scale":{"x":"independent","y":"independent"}},"layer":[
{"data":{"name":"conn"},"mark":{"type":"rule","color":"#0000ff","strokeWidth":0.7,"strokeDash":[1,1.5]},"encoding":{"x":{"field":"a","type":"quantitative","scale":{"domain":[180,0],"range":[216,410]},"axis":null},"x2":{"field":"b"},"y":{"datum":0,"scale":{"domain":[0,100],"range":[180,100]},"axis":null},"y2":{"datum":81.9}}},
{"transform":[{"filter":"datum.x>127&&datum.x<171"}],"mark":{"type":"line","color":"#ff0000"},"encoding":{"x":{"field":"x","type":"quantitative","scale":{"domain":[170,127.4],"range":[28.7,221]},"axis":{"values":[170,160,150,140,130],"offset":-26.2,"orient":"bottom","title":null}},"y":{"field":"y","type":"quantitative","scale":{"domain":[0,1],"range":[108.3,15]},"axis":null}}},
{"encoding":{"x":{"field":"x","type":"quantitative","scale":{"domain":[81.5,40],"range":[375.9,564.5]},"axis":{"values":[80,70,60,50,40],"offset":-26.2,"orient":"bottom","title":null}},"y":{"field":"y","type":"quantitative","scale":{"domain":[0,1],"range":[108.3,15]},"axis":null}},"layer":[{"transform":[{"filter":"datum.x<82&&datum.x>39"}],"mark":{"type":"line","color":"#ff0000"}},{"data":{"name":"b3"},"mark":{"type":"line","color":"#0000ff","strokeDash":[5,2.5]}}]},
{"transform":[{"filter":"datum.x>99"}],"mark":{"type":"line","color":"black","strokeWidth":1.2},"encoding":{"x":{"field":"x","type":"quantitative","scale":{"domain":[180,0],"range":[216,410]},"axis":null},"y":{"field":"y","type":"quantitative","scale":{"domain":[0,14.3],"range":[180,100]},"axis":null}}},
{"transform":[{"filter":"datum.x<=100"}],"mark":{"type":"line","color":"black","strokeWidth":1.2},"encoding":{"x":{"field":"x","type":"quantitative","scale":{"domain":[180,0],"range":[216,410]},"axis":null},"y":{"field":"y","type":"quantitative","scale":{"domain":[0,1],"range":[180,100]},"axis":null}}},
{"data":{"values":[{}]},"mark":{"type":"text"},"encoding":{"text":{"value":"boat-2"},"x":{"datum":90,"scale":{"domain":[180,0],"range":[216,410]},"axis":null},"y":{"datum":-29.4,"scale":{"domain":[0,100],"range":[180,100]},"axis":null}}}
]},
{"width":570,"height":140.2,"data":{"name":"a4"},"resolve":{"scale":{"x":"independent","y":"independent"}},"layer":[
{"data":{"name":"conn"},"mark":{"type":"rule","color":"#0000ff","strokeWidth":0.7,"strokeDash":[1,1.5]},"encoding":{"x":{"field":"a","type":"quantitative","scale":{"domain":[180,0],"range":[216,410]},"axis":null},"x2":{"field":"b"},"y":{"datum":0,"scale":{"domain":[0,100],"range":[180,100]},"axis":null},"y2":{"datum":81.9}}},
{"transform":[{"filter":"datum.x>127&&datum.x<171"}],"mark":{"type":"line","color":"#ff0000"},"encoding":{"x":{"field":"x","type":"quantitative","scale":{"domain":[170,127.4],"range":[28.7,221]},"axis":{"values":[170,160,150,140,130],"offset":-26.2,"orient":"bottom","title":null}},"y":{"field":"y","type":"quantitative","scale":{"domain":[0,1],"range":[108.3,15]},"axis":null}}},
{"encoding":{"x":{"field":"x","type":"quantitative","scale":{"domain":[81.5,40],"range":[375.9,564.5]},"axis":{"values":[80,70,60,50,40],"offset":-26.2,"orient":"bottom","title":null}},"y":{"field":"y","type":"quantitative","scale":{"domain":[0,1],"range":[108.3,15]},"axis":null}},"layer":[{"transform":[{"filter":"datum.x<82&&datum.x>39"}],"mark":{"type":"line","color":"#ff0000"}},{"data":{"name":"b4"},"mark":{"type":"line","color":"#0000ff","strokeDash":[5,2.5]}}]},
{"transform":[{"filter":"datum.x>99"}],"mark":{"type":"line","color":"black","strokeWidth":1.2},"encoding":{"x":{"field":"x","type":"quantitative","scale":{"domain":[180,0],"range":[216,410]},"axis":null},"y":{"field":"y","type":"quantitative","scale":{"domain":[0,16.7],"range":[180,100]},"axis":null}}},
{"transform":[{"filter":"datum.x<=100"}],"mark":{"type":"line","color":"black","strokeWidth":1.2},"encoding":{"x":{"field":"x","type":"quantitative","scale":{"domain":[180,0],"range":[216,410]},"axis":null},"y":{"field":"y","type":"quantitative","scale":{"domain":[0,1],"range":[180,100]},"axis":null}}},
{"data":{"values":[{}]},"mark":{"type":"text"},"encoding":{"text":{"value":"stirrup"},"x":{"datum":90,"scale":{"domain":[180,0],"range":[216,410]},"axis":null},"y":{"datum":-29.4,"scale":{"domain":[0,100],"range":[180,100]},"axis":null}}}
]},
{"width":570,"height":140.2,"data":{"name":"c4"},"resolve":{"scale":{"x":"independent","y":"independent"}},"layer":[
{"data":{"name":"conn"},"mark":{"type":"rule","color":"#0000ff","strokeWidth":0.7,"strokeDash":[1,1.5]},"encoding":{"x":{"field":"a","type":"quantitative","scale":{"domain":[180,0],"range":[216,410]},"axis":null},"x2":{"field":"b"},"y":{"datum":0,"scale":{"domain":[0,100],"range":[180,100]},"axis":null},"y2":{"datum":81.9}}},
{"transform":[{"filter":"datum.x>127&&datum.x<171"}],"mark":{"type":"line","color":"#ff0000"},"encoding":{"x":{"field":"x","type":"quantitative","scale":{"domain":[170,127.4],"range":[28.7,221]},"axis":{"values":[170,160,150,140,130],"offset":-26.2,"orient":"bottom","title":null}},"y":{"field":"y","type":"quantitative","scale":{"domain":[0,1],"range":[108.3,15]},"axis":null}}},
{"encoding":{"x":{"field":"x","type":"quantitative","scale":{"domain":[81.5,40],"range":[375.9,564.5]},"axis":{"values":[80,70,60,50,40],"offset":-26.2,"orient":"bottom","title":null}},"y":{"field":"y","type":"quantitative","scale":{"domain":[0,1],"range":[108.3,15]},"axis":null}},"layer":[{"transform":[{"filter":"datum.x<82&&datum.x>39"}],"mark":{"type":"line","color":"#ff0000"}},{"data":{"name":"b4"},"mark":{"type":"line","color":"#0000ff","strokeDash":[5,2.5]}}]},
{"transform":[{"filter":"datum.x>99"}],"mark":{"type":"line","color":"black","strokeWidth":1.2},"encoding":{"x":{"field":"x","type":"quantitative","scale":{"domain":[180,0],"range":[216,410]},"axis":null},"y":{"field":"y","type":"quantitative","scale":{"domain":[0,8],"range":[180,100]},"axis":null}}},
{"transform":[{"filter":"datum.x<=100"}],"mark":{"type":"line","color":"black","strokeWidth":1.2},"encoding":{"x":{"field":"x","type":"quantitative","scale":{"domain":[180,0],"range":[216,410]},"axis":null},"y":{"field":"y","type":"quantitative","scale":{"domain":[0,1],"range":[180,100]},"axis":null}}},
{"data":{"values":[{}]},"mark":{"type":"text"},"encoding":{"text":{"value":"stirrup"},"x":{"datum":90,"scale":{"domain":[180,0],"range":[216,410]},"axis":null},"y":{"datum":-29.4,"scale":{"domain":[0,100],"range":[180,100]},"axis":null}}}
]},
{"width":570,"height":140.2,"data":{"name":"a5"},"resolve":{"scale":{"x":"independent","y":"independent"}},"layer":[
{"data":{"name":"conn"},"mark":{"type":"rule","color":"#0000ff","strokeWidth":0.7,"strokeDash":[1,1.5]},"encoding":{"x":{"field":"a","type":"quantitative","scale":{"domain":[180,0],"range":[216,410]},"axis":null},"x2":{"field":"b"},"y":{"datum":0,"scale":{"domain":[0,100],"range":[180,100]},"axis":null},"y2":{"datum":81.9}}},
{"transform":[{"filter":"datum.x>127&&datum.x<171"}],"mark":{"type":"line","color":"#ff0000"},"encoding":{"x":{"field":"x","type":"quantitative","scale":{"domain":[170,127.4],"range":[28.7,221]},"axis":{"values":[170,160,150,140,130],"offset":-26.2,"orient":"bottom","title":null}},"y":{"field":"y","type":"quantitative","scale":{"domain":[0,1],"range":[108.3,15]},"axis":null}}},
{"encoding":{"x":{"field":"x","type":"quantitative","scale":{"domain":[81.5,40],"range":[375.9,564.5]},"axis":{"values":[80,70,60,50,40],"offset":-26.2,"orient":"bottom","title":null}},"y":{"field":"y","type":"quantitative","scale":{"domain":[0,1],"range":[108.3,15]},"axis":null}},"layer":[{"transform":[{"filter":"datum.x<82&&datum.x>39"}],"mark":{"type":"line","color":"#ff0000"}},{"data":{"name":"b5"},"mark":{"type":"line","color":"#0000ff","strokeDash":[5,2.5]}}]},
{"transform":[{"filter":"datum.x>99"}],"mark":{"type":"line","color":"black","strokeWidth":1.2},"encoding":{"x":{"field":"x","type":"quantitative","scale":{"domain":[180,0],"range":[216,410]},"axis":null},"y":{"field":"y","type":"quantitative","scale":{"domain":[0,25],"range":[180,100]},"axis":null}}},
{"transform":[{"filter":"datum.x<=100"}],"mark":{"type":"line","color":"black","strokeWidth":1.2},"encoding":{"x":{"field":"x","type":"quantitative","scale":{"domain":[180,0],"range":[216,410]},"axis":null},"y":{"field":"y","type":"quantitative","scale":{"domain":[0,1],"range":[180,100]},"axis":null}}},
{"data":{"values":[{}]},"mark":{"type":"text"},"encoding":{"text":{"value":"twistboat"},"x":{"datum":90,"scale":{"domain":[180,0],"range":[216,410]},"axis":null},"y":{"datum":-29.4,"scale":{"domain":[0,100],"range":[180,100]},"axis":null}}}
]},
{"width":570,"height":140.2,"data":{"name":"c5"},"resolve":{"scale":{"x":"independent","y":"independent"}},"layer":[
{"data":{"name":"conn"},"mark":{"type":"rule","color":"#0000ff","strokeWidth":0.7,"strokeDash":[1,1.5]},"encoding":{"x":{"field":"a","type":"quantitative","scale":{"domain":[180,0],"range":[216,410]},"axis":null},"x2":{"field":"b"},"y":{"datum":0,"scale":{"domain":[0,100],"range":[180,100]},"axis":null},"y2":{"datum":81.9}}},
{"transform":[{"filter":"datum.x>127&&datum.x<171"}],"mark":{"type":"line","color":"#ff0000"},"encoding":{"x":{"field":"x","type":"quantitative","scale":{"domain":[170,127.4],"range":[28.7,221]},"axis":{"values":[170,160,150,140,130],"offset":-26.2,"orient":"bottom","title":null}},"y":{"field":"y","type":"quantitative","scale":{"domain":[0,1],"range":[108.3,15]},"axis":null}}},
{"encoding":{"x":{"field":"x","type":"quantitative","scale":{"domain":[81.5,40],"range":[375.9,564.5]},"axis":{"values":[80,70,60,50,40],"offset":-26.2,"orient":"bottom","title":null}},"y":{"field":"y","type":"quantitative","scale":{"domain":[0,1],"range":[108.3,15]},"axis":null}},"layer":[{"transform":[{"filter":"datum.x<82&&datum.x>39"}],"mark":{"type":"line","color":"#ff0000"}},{"data":{"name":"b5"},"mark":{"type":"line","color":"#0000ff","strokeDash":[5,2.5]}}]},
{"transform":[{"filter":"datum.x>99"}],"mark":{"type":"line","color":"black","strokeWidth":1.2},"encoding":{"x":{"field":"x","type":"quantitative","scale":{"domain":[180,0],"range":[216,410]},"axis":null},"y":{"field":"y","type":"quantitative","scale":{"domain":[0,9.1],"range":[180,100]},"axis":null}}},
{"transform":[{"filter":"datum.x<=100"}],"mark":{"type":"line","color":"black","strokeWidth":1.2},"encoding":{"x":{"field":"x","type":"quantitative","scale":{"domain":[180,0],"range":[216,410]},"axis":null},"y":{"field":"y","type":"quantitative","scale":{"domain":[0,1],"range":[180,100]},"axis":null}}},
{"data":{"values":[{}]},"mark":{"type":"text"},"encoding":{"text":{"value":"twistboat"},"x":{"datum":90,"scale":{"domain":[180,0],"range":[216,410]},"axis":null},"y":{"datum":-29.4,"scale":{"domain":[0,100],"range":[180,100]},"axis":null}}}
]},
{"width":570,"height":140.2,"data":{"name":"a6"},"resolve":{"scale":{"x":"independent","y":"independent"}},"layer":[
{"data":{"name":"conn"},"mark":{"type":"rule","color":"#0000ff","strokeWidth":0.7,"strokeDash":[1,1.5]},"encoding":{"x":{"field":"a","type":"quantitative","scale":{"domain":[180,0],"range":[216,410]},"axis":null},"x2":{"field":"b"},"y":{"datum":0,"scale":{"domain":[0,100],"range":[180,100]},"axis":null},"y2":{"datum":81.9}}},
{"data":{"name":"vt"},"mark":{"type":"rule","color":"#0000ff","strokeWidth":0.7,"strokeDash":[1,1.5]},"encoding":{"x":{"field":"x","type":"quantitative","scale":{"domain":[180,0],"range":[216,410]},"axis":null},"y":{"datum":0,"scale":{"domain":[0,100],"range":[180,100]},"axis":null},"y2":{"datum":-12.1}}},
{"transform":[{"filter":"datum.x>127&&datum.x<171"}],"mark":{"type":"line","color":"#ff0000"},"encoding":{"x":{"field":"x","type":"quantitative","scale":{"domain":[170,127.4],"range":[28.7,221]},"axis":{"values":[170,160,150,140,130],"offset":-26.2,"orient":"bottom","title":null}},"y":{"field":"y","type":"quantitative","scale":{"domain":[0,1],"range":[108.3,15]},"axis":null}}},
{"encoding":{"x":{"field":"x","type":"quantitative","scale":{"domain":[81.5,40],"range":[375.9,564.5]},"axis":{"values":[80,70,60,50,40],"offset":-26.2,"orient":"bottom","title":null}},"y":{"field":"y","type":"quantitative","scale":{"domain":[0,1],"range":[108.3,15]},"axis":null}},"layer":[{"transform":[{"filter":"datum.x<82&&datum.x>39"}],"mark":{"type":"line","color":"#ff0000"}},{"data":{"name":"b5"},"mark":{"type":"line","color":"#0000ff","strokeDash":[5,2.5]}}]},
{"transform":[{"filter":"datum.x>99"}],"mark":{"type":"line","color":"black","strokeWidth":1.2},"encoding":{"x":{"field":"x","type":"quantitative","scale":{"domain":[180,0],"range":[216,410]},"axis":null},"y":{"field":"y","type":"quantitative","scale":{"domain":[0,12.5],"range":[180,100]},"axis":null}}},
{"transform":[{"filter":"datum.x<=100"}],"mark":{"type":"line","color":"black","strokeWidth":1.2},"encoding":{"x":{"field":"x","type":"quantitative","scale":{"domain":[180,0],"range":[216,410]},"axis":{"values":[180,160,140,120,100,80,60,40,20,0],"labelExpr":"datum.value%40==0?datum.label:''","offset":49.5,"orient":"bottom","title":null}},"y":{"field":"y","type":"quantitative","scale":{"domain":[0,1],"range":[180,100]},"axis":null}}},
{"data":{"values":[{}]},"mark":{"type":"text","fontSize":28},"encoding":{"text":{"value":"tricycle"},"x":{"datum":90,"scale":{"domain":[180,0],"range":[216,410]},"axis":null},"y":{"datum":-65.4,"scale":{"domain":[0,100],"range":[180,100]},"axis":null}}}
]},
{"width":570,"height":140.2,"data":{"name":"c6"},"resolve":{"scale":{"x":"independent","y":"independent"}},"layer":[
{"data":{"name":"conn"},"mark":{"type":"rule","color":"#0000ff","strokeWidth":0.7,"strokeDash":[1,1.5]},"encoding":{"x":{"field":"a","type":"quantitative","scale":{"domain":[180,0],"range":[216,410]},"axis":null},"x2":{"field":"b"},"y":{"datum":0,"scale":{"domain":[0,100],"range":[180,100]},"axis":null},"y2":{"datum":81.9}}},
{"data":{"name":"vt"},"mark":{"type":"rule","color":"#0000ff","strokeWidth":0.7,"strokeDash":[1,1.5]},"encoding":{"x":{"field":"x","type":"quantitative","scale":{"domain":[180,0],"range":[216,410]},"axis":null},"y":{"datum":0,"scale":{"domain":[0,100],"range":[180,100]},"axis":null},"y2":{"datum":-12.1}}},
{"transform":[{"filter":"datum.x>127&&datum.x<171"}],"mark":{"type":"line","color":"#ff0000"},"encoding":{"x":{"field":"x","type":"quantitative","scale":{"domain":[170,127.4],"range":[28.7,221]},"axis":{"values":[170,160,150,140,130],"offset":-26.2,"orient":"bottom","title":null}},"y":{"field":"y","type":"quantitative","scale":{"domain":[0,1],"range":[108.3,15]},"axis":null}}},
{"encoding":{"x":{"field":"x","type":"quantitative","scale":{"domain":[81.5,40],"range":[375.9,564.5]},"axis":{"values":[80,70,60,50,40],"offset":-26.2,"orient":"bottom","title":null}},"y":{"field":"y","type":"quantitative","scale":{"domain":[0,1],"range":[108.3,15]},"axis":null}},"layer":[{"transform":[{"filter":"datum.x<82&&datum.x>39"}],"mark":{"type":"line","color":"#ff0000"}},{"data":{"name":"b5"},"mark":{"type":"line","color":"#0000ff","strokeDash":[5,2.5]}}]},
{"transform":[{"filter":"datum.x>99"}],"mark":{"type":"line","color":"black","strokeWidth":1.2},"encoding":{"x":{"field":"x","type":"quantitative","scale":{"domain":[180,0],"range":[216,410]},"axis":null},"y":{"field":"y","type":"quantitative","scale":{"domain":[0,7.7],"range":[180,100]},"axis":null}}},
{"transform":[{"filter":"datum.x<=100"}],"mark":{"type":"line","color":"black","strokeWidth":1.2},"encoding":{"x":{"field":"x","type":"quantitative","scale":{"domain":[180,0],"range":[216,410]},"axis":{"values":[180,160,140,120,100,80,60,40,20,0],"labelExpr":"datum.value%40==0?datum.label:''","offset":49.5,"orient":"bottom","title":null}},"y":{"field":"y","type":"quantitative","scale":{"domain":[0,1],"range":[180,100]},"axis":null}}},
{"data":{"values":[{}]},"mark":{"type":"text","fontSize":28},"encoding":{"text":{"value":"tricycle"},"x":{"datum":90,"scale":{"domain":[180,0],"range":[216,410]},"axis":null},"y":{"datum":-65.4,"scale":{"domain":[0,100],"range":[180,100]},"axis":null}}}
]}
]}
